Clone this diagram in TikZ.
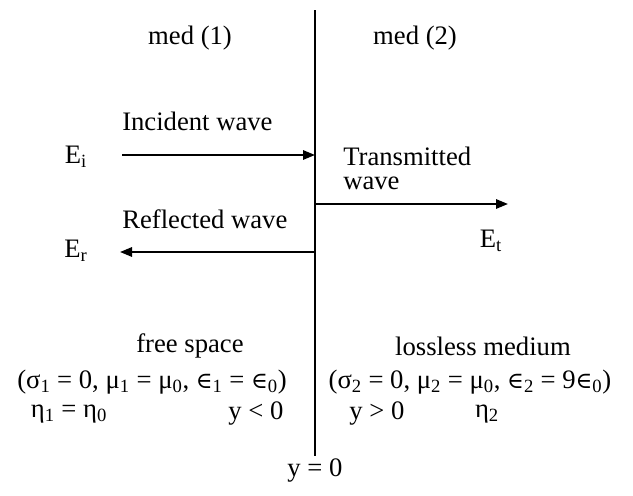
\documentclass[tikz,border=0pt]{standalone}
\usepackage{fontspec}
\setmainfont{Liberation Serif}
\newfontfamily\symf{DejaVu Serif}
\usetikzlibrary{arrows.meta}
\newcommand{\elm}{{\symf\fontsize{17}{20}\selectfont ∈}}
\begin{document}
\begin{tikzpicture}[x=0.75pt,y=-0.75pt,
  every node/.style={font=\fontsize{20}{24}\selectfont, inner sep=0pt},
  wave/.style={line width=1.5pt, -{Triangle[length=9pt,width=7pt]}},
  iface/.style={line width=1.6pt}]
\useasboundingbox (0,0) rectangle (633,496);
\coordinate (top) at (315,10);
\coordinate (bot) at (315,456);
\draw[iface] (top) -- (bot);
\node (med1) at (190,38) {med (1)};
\node (med2) at (415,38) {med (2)};
\node[anchor=west] (inc) at (122,121) {Incident wave};
\coordinate (incS) at (122,155);
\coordinate (incE) at (315,155);
\draw[wave] (incS) -- (incE);
\node (Ei) at (76,157) {E\textsubscript{i}};
\node[anchor=west, align=left] (trans) at (343,168) {Transmitted\\[-6pt]wave};
\coordinate (trS) at (315,204);
\coordinate (trE) at (508,204);
\draw[wave] (trS) -- (trE);
\node (Et) at (491,241) {E\textsubscript{t}};
\node[anchor=west] (refl) at (122,219) {Reflected wave};
\coordinate (rfS) at (315,252);
\coordinate (rfE) at (120,252);
\draw[wave] (rfS) -- (rfE);
\node (Er) at (76,251) {E\textsubscript{r}};
\node (free) at (190,346) {free space};
\node (par1) at (152,382) {(σ\textsubscript{1} = 0, μ\textsubscript{1} = μ\textsubscript{0}, \elm\textsubscript{1} = \elm\textsubscript{0})};
\node (eta1) at (69,414) {η\textsubscript{1} = η\textsubscript{0}};
\node (yl) at (256,414) {y < 0};
\node (lossless) at (483,346) {lossless medium};
\node (par2) at (470,382) {(σ\textsubscript{2} = 0, μ\textsubscript{2} = μ\textsubscript{0}, \elm\textsubscript{2} = 9\elm\textsubscript{0})};
\node (yg) at (377,414) {y > 0};
\node (eta2) at (487,414) {η\textsubscript{2}};
\node (y0) at (315,471) {y = 0};
\end{tikzpicture}
\end{document}
